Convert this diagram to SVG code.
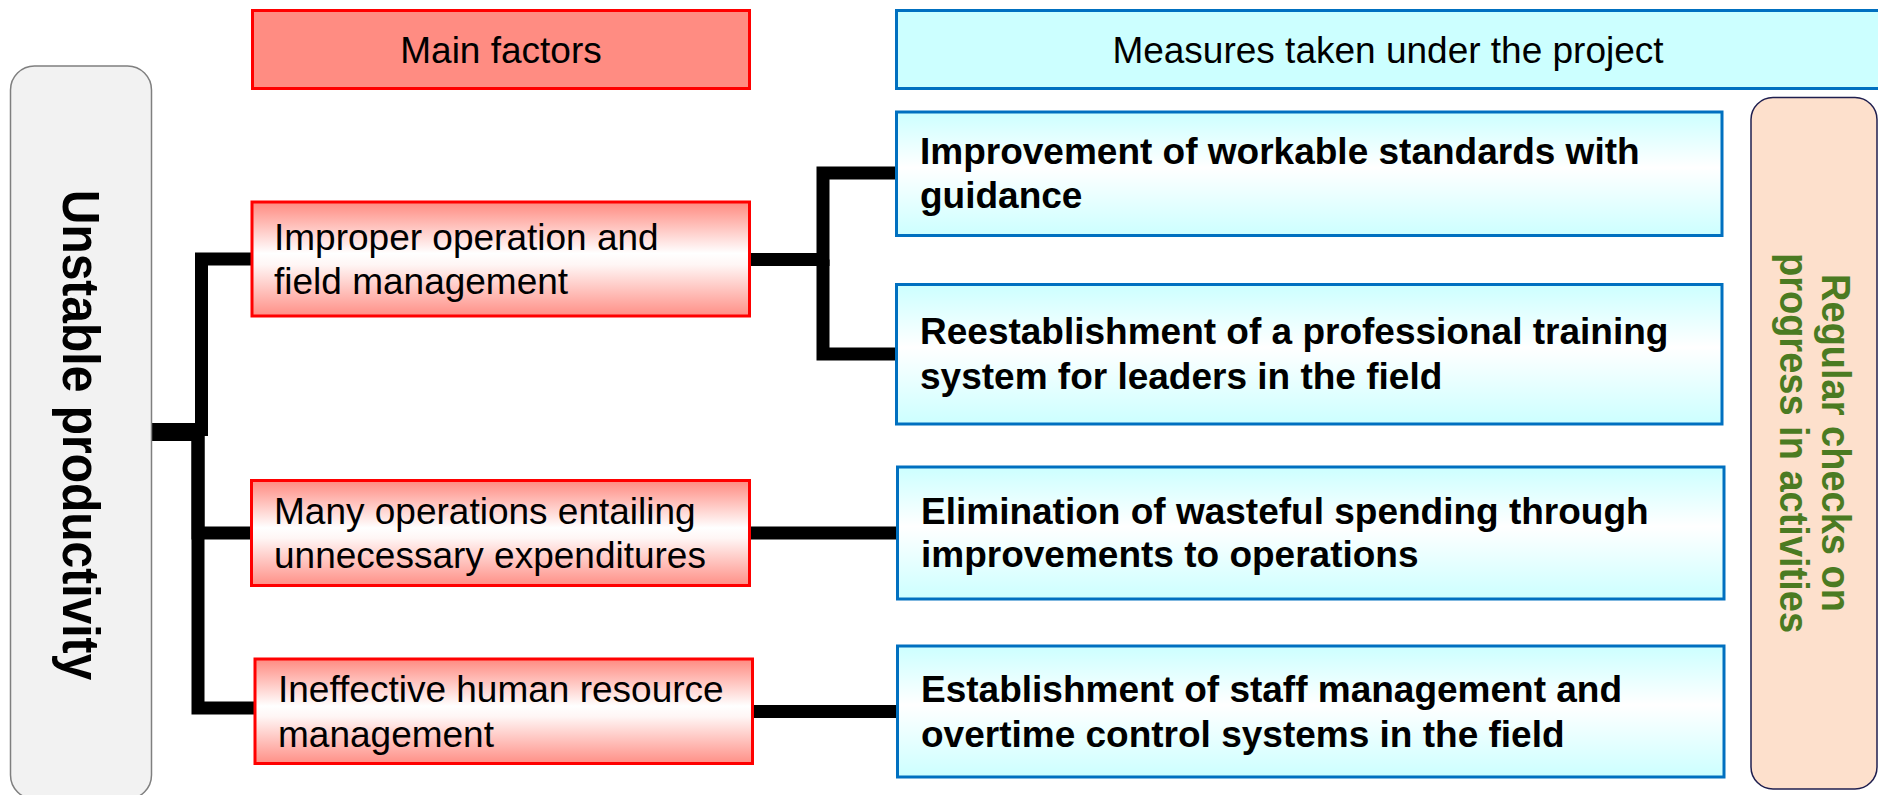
<svg xmlns="http://www.w3.org/2000/svg" width="1878" height="795" viewBox="0 0 1878 795">
  <defs>
    <linearGradient id="gRed" x1="0" y1="0" x2="0" y2="1">
      <stop offset="0" stop-color="#ff8a80"/>
      <stop offset="0.45" stop-color="#ffffff"/>
      <stop offset="0.55" stop-color="#fff6f5"/>
      <stop offset="1" stop-color="#ff8f86"/>
    </linearGradient>
    <linearGradient id="gCyan" x1="0" y1="0" x2="0" y2="1">
      <stop offset="0" stop-color="#ccffff"/>
      <stop offset="0.45" stop-color="#ffffff"/>
      <stop offset="0.55" stop-color="#f6ffff"/>
      <stop offset="1" stop-color="#ccffff"/>
    </linearGradient>
    <style>
      .t { font-family: "Liberation Sans", Arial, sans-serif; font-size: 37px; fill: #000; }
      .b { font-weight: bold; }
      .hdrRed { fill: #ff8c82; stroke: #ff0000; stroke-width: 3; }
      .hdrCyan { fill: #ccffff; stroke: #0070c0; stroke-width: 3; }
      .factor { fill: url(#gRed); stroke: #ff0000; stroke-width: 3; }
      .measure { fill: url(#gCyan); stroke: #0070c0; stroke-width: 3; }
      .wire { fill: none; stroke: #000; stroke-width: 13; stroke-linejoin: miter; stroke-linecap: butt; }
      .side { font-size: 38px; fill: #4b7b22; }
    </style>
  </defs>

  <rect width="1878" height="795" fill="#ffffff"/>

  <!-- column headers -->
  <g id="hdr-factors">
    <rect class="hdrRed" x="252.5" y="10.5" width="497" height="78"/>
    <text class="t" x="501" y="63" text-anchor="middle">Main factors</text>
  </g>
  <g id="hdr-measures">
    <rect class="hdrCyan" x="896.5" y="10.5" width="984" height="78"/>
    <text class="t" x="1388" y="63" text-anchor="middle">Measures taken under the project</text>
  </g>

  <!-- connectors -->
  <g id="connectors">
    <path class="wire" d="M149,429.5 H201.5 V259 H252"/>
    <path class="wire" d="M149,434.5 H198 V533 H251"/>
    <path class="wire" d="M149,434.5 H198 V708 H254"/>
    <path class="wire" d="M749,259.5 H823 V173 H897"/>
    <path class="wire" d="M823,259.5 V354 H897"/>
    <path class="wire" d="M749,533 H897"/>
    <path class="wire" d="M752,711.5 H897"/>
  </g>

  <!-- problem statement -->
  <g id="problem">
    <rect x="10.5" y="66" width="141" height="733" rx="24" ry="24" fill="#f2f2f2" stroke="#7f7f7f" stroke-width="1.5"/>
    <text class="t b" transform="translate(63,435) rotate(90) scale(1,1.07)" text-anchor="middle" style="font-size:48px">Unstable productivity</text>
  </g>

  <!-- factors -->
  <g id="factor-operation">
    <rect class="factor" x="252" y="202" width="497.5" height="114"/>
    <text class="t" x="274" y="249.5">Improper operation and</text>
    <text class="t" x="274" y="293.5">field management</text>
  </g>
  <g id="factor-expenditure">
    <rect class="factor" x="251.5" y="480.5" width="498" height="105"/>
    <text class="t" x="274" y="523.5">Many operations entailing</text>
    <text class="t" x="274" y="567.5">unnecessary expenditures</text>
  </g>
  <g id="factor-hr">
    <rect class="factor" x="255" y="659" width="497.5" height="104.5"/>
    <text class="t" x="278" y="702">Ineffective human resource</text>
    <text class="t" x="278" y="746.5">management</text>
  </g>

  <!-- measures -->
  <g id="measure-standards">
    <rect class="measure" x="896.5" y="112" width="825.5" height="123.5"/>
    <text class="t b" x="920" y="164">Improvement of workable standards with</text>
    <text class="t b" x="920" y="207.5">guidance</text>
  </g>
  <g id="measure-training">
    <rect class="measure" x="896.5" y="284.5" width="825.5" height="139.5"/>
    <text class="t b" x="920" y="343.5">Reestablishment of a professional training</text>
    <text class="t b" x="920" y="388.5">system for leaders in the field</text>
  </g>
  <g id="measure-spending">
    <rect class="measure" x="897.5" y="467" width="826.5" height="132"/>
    <text class="t b" x="921" y="523.5">Elimination of wasteful spending through</text>
    <text class="t b" x="921" y="567">improvements to operations</text>
  </g>
  <g id="measure-staff">
    <rect class="measure" x="897.5" y="646" width="826.5" height="131"/>
    <text class="t b" x="921" y="702">Establishment of staff management and</text>
    <text class="t b" x="921" y="746.5">overtime control systems in the field</text>
  </g>

  <!-- monitoring -->
  <g id="monitoring">
    <rect x="1751" y="97.5" width="126" height="691.5" rx="22" ry="22" fill="#fde0cc" stroke="#1f1f4f" stroke-width="1.5"/>
    <text class="t b side" transform="translate(1822,443) rotate(90) scale(1,1.07)" text-anchor="middle">Regular checks on</text>
    <text class="t b side" transform="translate(1780,443) rotate(90) scale(1,1.07)" text-anchor="middle">progress in activities</text>
  </g>
</svg>
